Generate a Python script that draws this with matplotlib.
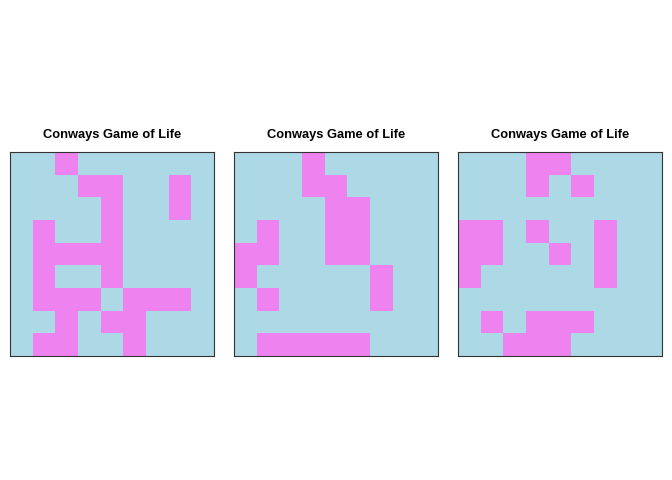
import numpy as np
import matplotlib
matplotlib.use("Agg")
import matplotlib.pyplot as plt
from matplotlib.colors import ListedColormap

# live cells per row (row 0 = top), 9x9 boards
board1_rows = [[2], [3, 4, 7], [4, 7], [1, 4], [1, 2, 3, 4], [1, 4],
               [1, 2, 3, 5, 6, 7], [2, 4, 5], [1, 2, 5]]
board2_rows = [[3], [3, 4], [4, 5], [1, 4, 5], [0, 1, 4, 5], [0, 6],
               [1, 6], [], [1, 2, 3, 4, 5]]
board3_rows = [[3, 4], [3, 5], [], [0, 1, 3, 6], [0, 1, 4, 6], [0, 6],
               [], [1, 3, 4, 5], [2, 3, 4]]
title = "Conways Game of Life"
n = 9


def to_grid(rows):
    grid = np.zeros((n, n))
    for r, cols in enumerate(rows):
        grid[r, cols] = 1
    return grid


cmap = ListedColormap(["lightblue", "violet"])
fig = plt.figure(figsize=(6.72, 4.8), dpi=100)
lefts = [10, 234, 458]
for left, rows in zip(lefts, [board1_rows, board2_rows, board3_rows]):
    ax = fig.add_axes([left / 672, 124 / 480, 204 / 672, 204 / 480])
    ax.imshow(to_grid(rows), cmap=cmap, vmin=0, vmax=1, aspect="auto",
              interpolation="nearest")
    ax.set_xticks([])
    ax.set_yticks([])
    for s in ax.spines.values():
        s.set_linewidth(0.8)
        s.set_color("#333333")
    ax.set_title(title, fontsize=9.3, fontweight="bold",
                 family="Liberation Sans", pad=10)

fig.savefig("out.png", dpi=100)
